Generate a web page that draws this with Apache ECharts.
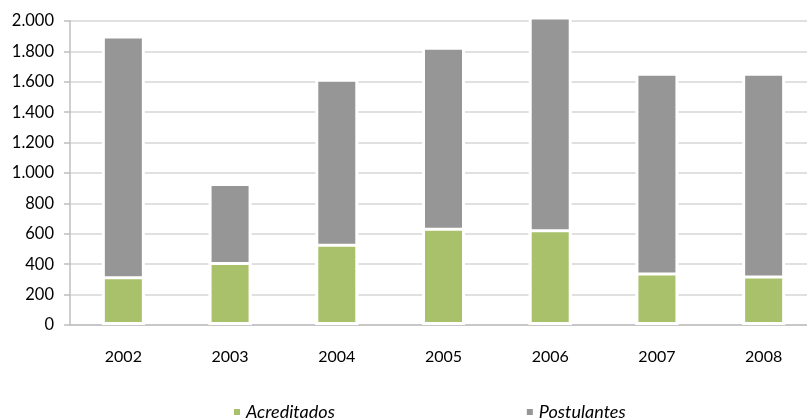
<!DOCTYPE html>
<html>
<head>
<meta charset="utf-8">
<script src="https://cdn.jsdelivr.net/npm/echarts@6/dist/echarts.min.js"></script>
<style>
  html, body { margin: 0; padding: 0; background: #fff; }
  #chart { width: 807px; height: 419px; }
</style>
</head>
<body>
<div id="chart"></div>
<script>
// datos
var years = ['2002', '2003', '2004', '2005', '2006', '2007', '2008'];
var acreditados = [320, 415, 535, 640, 630, 345, 325];
var postulantes = [1905, 935, 1620, 1830, 2030, 1660, 1660];
var yTicks = [0, 200, 400, 600, 800, 1000, 1200, 1400, 1600, 1800, 2000];

var myChart = echarts.init(document.getElementById('chart'));

function fmt(v) {
    // separador de miles con punto
    return String(v).replace(/\B(?=(\d{3})+(?!\d))/g, '.');
}

var option = {
    animation: false,
    textStyle: { fontFamily: 'Lato' },
    grid: {
        left: 70,
        top: 21,
        width: 747,
        bottom: 94,
        outerBoundsMode: 'none',
        containLabel: false
    },
    legend: {
        left: 227,
        top: 398,
        itemWidth: 8,
        itemHeight: 8,
        itemGap: 190,
        icon: 'rect',
        data: ['Acreditados', 'Postulantes'],
        textStyle: {
            fontStyle: 'italic',
            fontSize: 18,
            color: '#000'
        }
    },
    xAxis: {
        type: 'category',
        data: years,
        axisLine: { lineStyle: { color: '#bfbfbf', width: 1.5 } },
        axisTick: { length: 6, lineStyle: { color: '#bfbfbf', width: 1.5 } },
        axisLabel: { margin: 24, fontSize: 16, color: '#000' }
    },
    yAxis: {
        type: 'value',
        min: yTicks[0],
        max: yTicks[yTicks.length - 1],
        interval: 200,
        axisLine: { show: true, lineStyle: { color: '#bfbfbf', width: 1.5 } },
        axisTick: { show: true, length: 6, lineStyle: { color: '#bfbfbf', width: 1.5 } },
        splitLine: { lineStyle: { color: '#d6d6d6', width: 1.5 } },
        axisLabel: {
            margin: 16,
            fontSize: 16.5,
            color: '#000',
            formatter: fmt
        }
    },
    series: [
        {
            name: 'Postulantes',
            type: 'bar',
            data: postulantes,
            barWidth: 43,
            clip: false,
            itemStyle: { color: '#969696', borderColor: '#fff', borderWidth: 3 }
        },
        {
            name: 'Acreditados',
            type: 'bar',
            data: acreditados,
            barWidth: 43,
            barGap: '-100%',
            clip: false,
            itemStyle: { color: '#a9c16b', borderColor: '#fff', borderWidth: 3 }
        }
    ]
};

myChart.setOption(option);
</script>
</body>
</html>
